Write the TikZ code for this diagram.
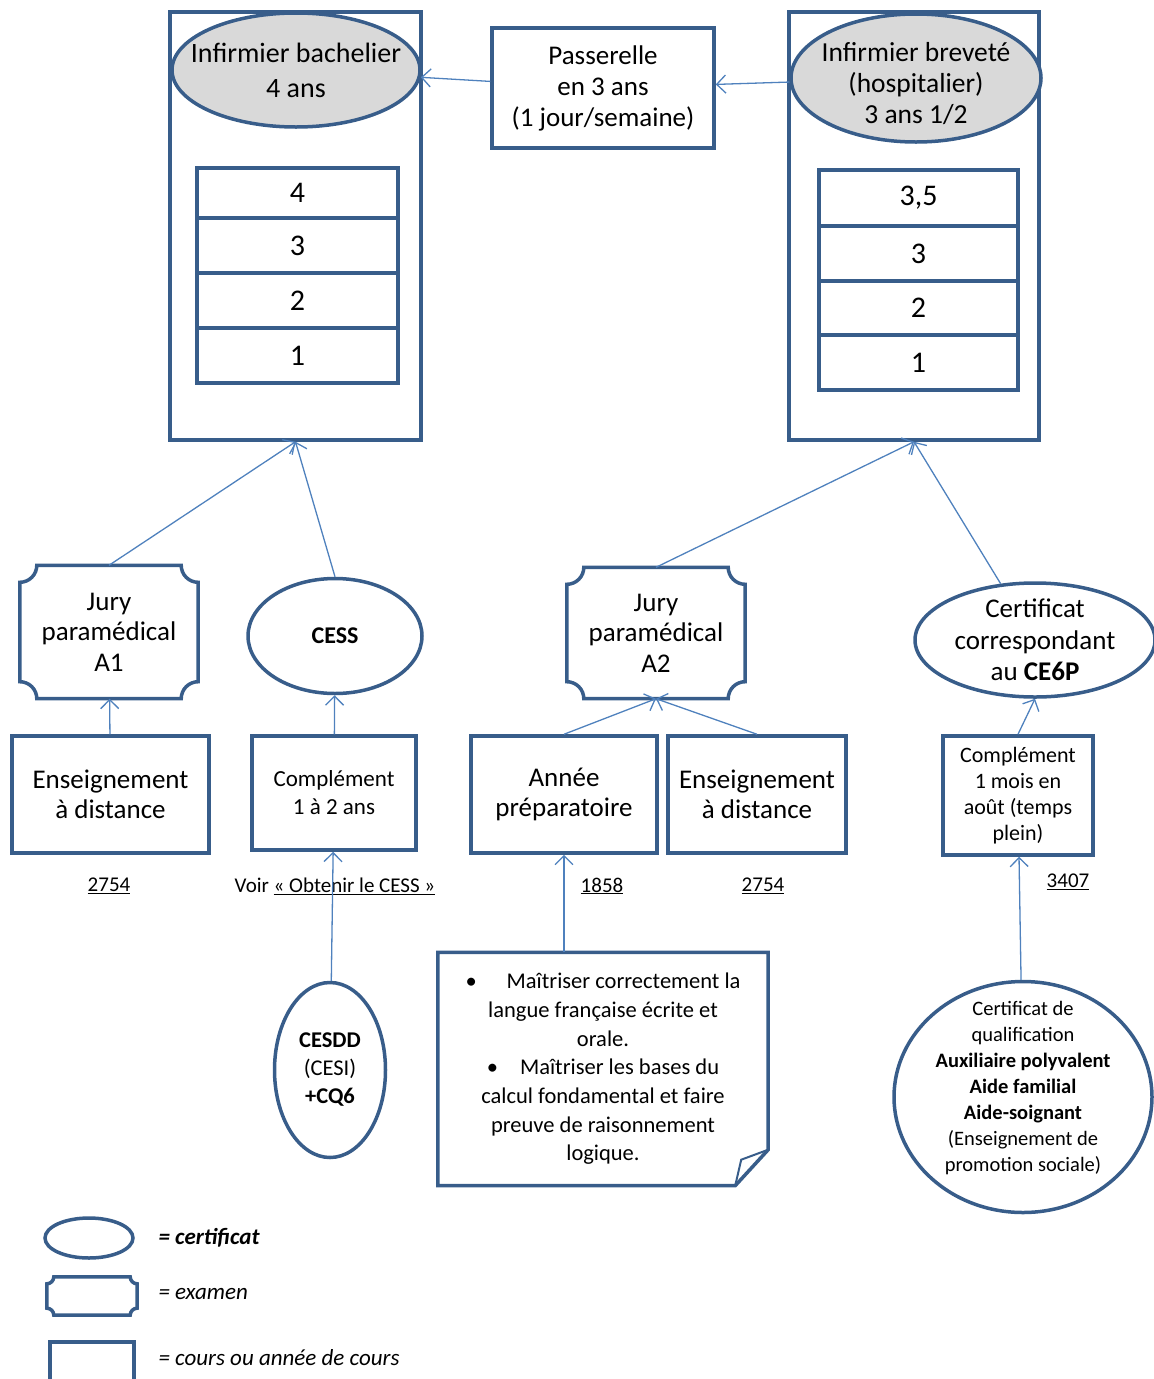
\documentclass[tikz,border=0pt]{standalone}
\usepackage{fontspec}
\setmainfont{Carlito}
\usetikzlibrary{shapes.geometric,arrows.meta}
\definecolor{boxblue}{RGB}{56,93,138}
\definecolor{lineblue}{RGB}{79,129,189}
\definecolor{certgray}{RGB}{217,217,217}
\newcommand\fsz[2]{\fontsize{#1}{#2}\selectfont}
\newcommand\plaque[2]{%
  \draw[boxline] ([xshift=#2]#1.north west) -- ([xshift=-#2]#1.north east)
    arc[start angle=180,end angle=270,radius=#2] -- ([yshift=#2]#1.south east)
    arc[start angle=90,end angle=180,radius=#2] -- ([xshift=#2]#1.south west)
    arc[start angle=0,end angle=90,radius=#2] -- ([yshift=-#2]#1.north west)
    arc[start angle=270,end angle=360,radius=#2] -- cycle;}
\begin{document}
\begin{tikzpicture}[x=1pt,y=-1pt,
    boxline/.style={draw=boxblue,line width=3.5pt},
    box/.style={boxline,rectangle,align=center,inner sep=0pt},
    cert/.style={boxline,ellipse,align=center,inner sep=-60pt},
    exam/.style={rectangle,align=center,inner sep=0pt},
    link/.style={draw=lineblue,line width=1.3pt,-{Straight Barb[length=9pt,width=18pt]}},
    lbl/.style={font=\fsz{21}{25}},
    legtxt/.style={anchor=west,font=\fsz{23}{27}}]
  \useasboundingbox (0,0) rectangle (1154,1379);
  \draw
    (295.5,226) node[box,minimum width=251pt,minimum height=428pt] (bach){}
    (914,226) node[box,minimum width=250pt,minimum height=428pt] (brev){}
    (296,70) node[cert,fill=certgray,minimum width=248pt,minimum height=114pt,font=\fsz{28}{35}] (bachE){Infirmier bachelier\\4 ans}
    (916,78) node[cert,fill=certgray,minimum width=250pt,minimum height=128pt,text height=92pt,font=\fsz{27.5}{31}] (brevE){Infirmier breveté\\(hospitalier)\\3 ans 1/2}
    (603,88) node[box,minimum width=222pt,minimum height=120pt,font=\fsz{27}{31}] (pass){Passerelle\\en 3 ans\\(1 jour/semaine)};
  \begin{scope}[every node/.style={box,minimum width=201pt,minimum height=55pt,font=\fsz{30}{34}}]
    \node[minimum height=50pt] (bachY4) at (297.5,193) {4};
    \node (bachY3) at (297.5,245.5) {3};
    \node (bachY2) at (297.5,300.5) {2};
    \node (bachY1) at (297.5,355.5) {1};
    \node[minimum width=199pt,minimum height=56pt] (brevY35) at (918.5,198) {3,5};
    \node[minimum width=199pt] (brevY3) at (918.5,253.5) {3};
    \node[minimum width=199pt,minimum height=54pt] (brevY2) at (918.5,308) {2};
    \node[minimum width=199pt] (brevY1) at (918.5,362.5) {1};
  \end{scope}
  \draw
    (109,632) node[exam,minimum width=178pt,minimum height=133pt,font=\fsz{27}{30.5}] (juryA){Jury\\paramédical\\A1}
    (335,636) node[cert,minimum width=174pt,minimum height=115pt,font=\fsz{24}{28}] (cess){\textbf{CESS}}
    (656,633) node[exam,minimum width=178pt,minimum height=131pt,font=\fsz{27}{30.5}] (juryB){Jury\\paramédical\\A2}
    (1035,640) node[cert,minimum width=240pt,minimum height=114pt,font=\fsz{27}{31.5}] (ce6p){Certificat\\correspondant\\au \textbf{CE6P}};
  \plaque{juryA}{17pt}
  \plaque{juryB}{17pt}
  \draw
    (110.5,794.5) node[box,minimum width=197pt,minimum height=117pt,font=\fsz{27}{30}] (ensA){Enseignement\\à distance}
    (334,793) node[box,minimum width=164pt,minimum height=114pt,font=\fsz{23}{28}] (compA){Complément\\1 à 2 ans}
    (564,794.5) node[box,minimum width=186pt,minimum height=117pt,font=\fsz{27}{30}] (annee){Année\\préparatoire}
    (757,794.5) node[box,minimum width=178pt,minimum height=117pt,font=\fsz{27}{30}] (ensB){Enseignement\\à distance}
    (1018,795.5) node[box,minimum width=150pt,minimum height=119pt,font=\fsz{22}{26}] (compB){Complément\\1 mois en\\août (temps\\plein)};
  \draw
    (109,886) node[lbl] (numA){\underline{2754}}
    (335,886) node[lbl] (voir){Voir \underline{« Obtenir le CESS »}}
    (602,886) node[lbl] (numB){\underline{1858}}
    (763,886) node[lbl] (numC){\underline{2754}}
    (1068,882) node[lbl] (numD){\underline{3407}};
  \draw
    (330,1070) node[cert,minimum width=111pt,minimum height=175pt,font=\fsz{22.5}{28}] (cesdd){\textbf{CESDD}\\(CESI)\\\textbf{+CQ6}}
    (603,1069) node[exam,minimum width=330pt,minimum height=233pt,font=\fsz{22.5}{28.7}] (note){\textbullet\hspace{30pt}Maîtriser correctement la\\langue française écrite et\\orale.\\\textbullet\hspace{22pt}Maîtriser les bases du\\calcul fondamental et faire\\preuve de raisonnement\\logique.}
    (1023,1097) node[cert,minimum width=258pt,minimum height=231pt,text depth=21pt,font=\fsz{20.5}{26}] (cqual){Certificat de\\qualification\\\textbf{Auxiliaire polyvalent}\\\textbf{Aide familial}\\\textbf{Aide-soignant}\\(Enseignement de\\promotion sociale)};
  \draw[boxline] (note.north west) -- (note.north east) -- ([yshift=36pt]note.south east)
    -- ([xshift=-33pt]note.south east) -- (note.south west) -- cycle;
  \draw[boxline,line width=2pt] ([xshift=-33pt]note.south east) -- ([xshift=-27pt,yshift=26pt]note.south east)
    -- ([yshift=36pt]note.south east);
  \draw
    (89,1238) node[cert,minimum width=88pt,minimum height=40pt] (legC){}
    (92,1296) node[exam,minimum width=90pt,minimum height=38pt] (legE){}
    (92,1366) node[box,minimum width=84pt,minimum height=48pt] (legR){}
    (155,1238) node[legtxt] (legCt){\textbf{\textit{= certificat}}}
    (155,1294) node[legtxt] (legEt){\textit{= examen}}
    (155,1358) node[legtxt] (legRt){\textit{= cours ou année de cours}};
  \plaque{legE}{7pt}
  \begin{scope}[link]
    \draw (pass) to (bachE);
    \draw (brevE) to (pass);
    \draw (juryA.north) to (bach.south);
    \draw (cess.north) to (bach.south);
    \draw (juryB.north) to (brev.south);
    \draw (ce6p) to (brev.south);
    \draw (ensA) to (juryA);
    \draw (compA) to (cess);
    \draw (annee.north) to (juryB.south);
    \draw (ensB.north) to (juryB.south);
    \draw (compB.north) to (ce6p.south);
    \draw (cesdd) to (compA);
    \draw (annee.south |- note.north) to (annee.south);
    \draw (cqual) to (compB);
  \end{scope}
\end{tikzpicture}
\end{document}
